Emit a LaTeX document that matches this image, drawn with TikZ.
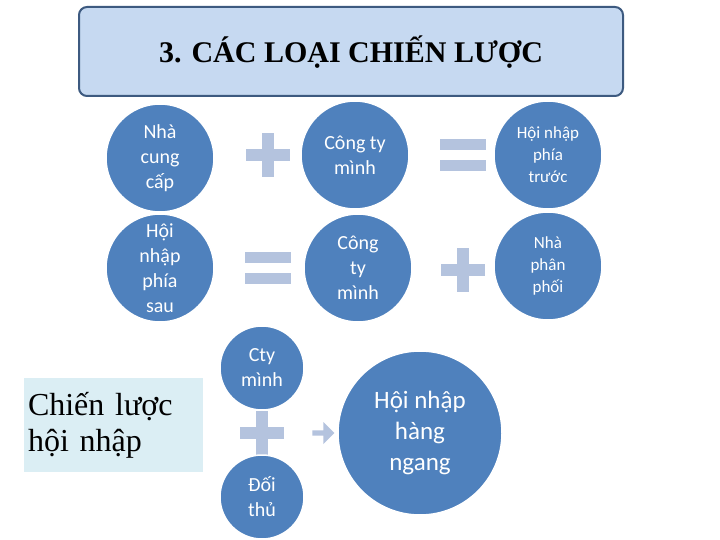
\documentclass[tikz,border=0pt]{standalone}
\usepackage{fontspec}
\setmainfont{Liberation Serif}
\newfontfamily\calfont{Carlito}
\usetikzlibrary{shapes.arrows}
\definecolor{cblue}{HTML}{4F81BD}
\definecolor{sym}{HTML}{B4C3DE}
\definecolor{tfill}{HTML}{C6D9F1}
\definecolor{tline}{HTML}{3D5A80}
\definecolor{bfill}{HTML}{DBEEF4}
\begin{document}
\begin{tikzpicture}[x=1pt,y=-1pt,
 circ/.style={circle,fill=cblue,draw=white,line width=1.5pt,minimum size=#1,inner sep=0pt,align=center,text=white,font=\calfont\fontsize{20}{25}\selectfont},
 circ/.default=108pt]
\useasboundingbox (0,0) rectangle (720,540);
\fill[white] (0,0) rectangle (720,540);
\node[circ] (a) at (160,158) {Nhà\\cung\\cấp};
\node[circ] (b) at (355,155) {Công ty\\mình};
\node[circ,font=\calfont\fontsize{17}{22}\selectfont] (c) at (548,155) {Hội nhập\\phía\\trước};
\node[circ] (d) at (160,268) {Hội\\nhập\\phía\\sau};
\node[circ] (e) at (358,268) {Công\\ty\\mình};
\node[circ,font=\calfont\fontsize{17}{22}\selectfont] (f) at (548,266) {Nhà\\phân\\phối};
\draw[rounded corners=8pt,fill=tfill,draw=tline,line width=2pt] (79,7) rectangle (623,96);
\node[font=\bfseries\fontsize{30}{34}\selectfont] (t) at (351,52) {3. CÁC LOẠI CHIẾN LƯỢC};
\foreach \n/\x/\y in {p1/268/155,p2/463/270,p3/262/433}{
 \fill[sym] (\x-6,\y-22) rectangle (\x+6,\y+22);
 \fill[sym] (\x-22,\y-6) rectangle (\x+22,\y+6);
 \coordinate (\n) at (\x,\y);}
\foreach \n/\x/\y in {e1/463/155,e2/268/268}{
 \fill[sym] (\x-23,\y-16) rectangle (\x+23,\y-5);
 \fill[sym] (\x-23,\y+5) rectangle (\x+23,\y+16);
 \coordinate (\n) at (\x,\y);}
\node[single arrow,fill=sym,minimum height=22pt,minimum width=22pt,single arrow head extend=4pt,inner sep=1pt] (ar) at (322,433) {};
\node[fill=bfill,minimum width=179pt,minimum height=94pt,text width=170pt,align=left,font=\fontsize{32}{36}\selectfont] (box) at (113,425) {Chiến lược\\hội nhập};
\node[circ=84pt] (g) at (262,368) {Cty\\mình};
\node[circ=84pt] (h) at (262,497) {Đối\\thủ};
\node[circ=164pt,font=\calfont\fontsize{25}{31}\selectfont] (i) at (420,433) {Hội nhập\\hàng\\ngang};
\end{tikzpicture}
\end{document}
